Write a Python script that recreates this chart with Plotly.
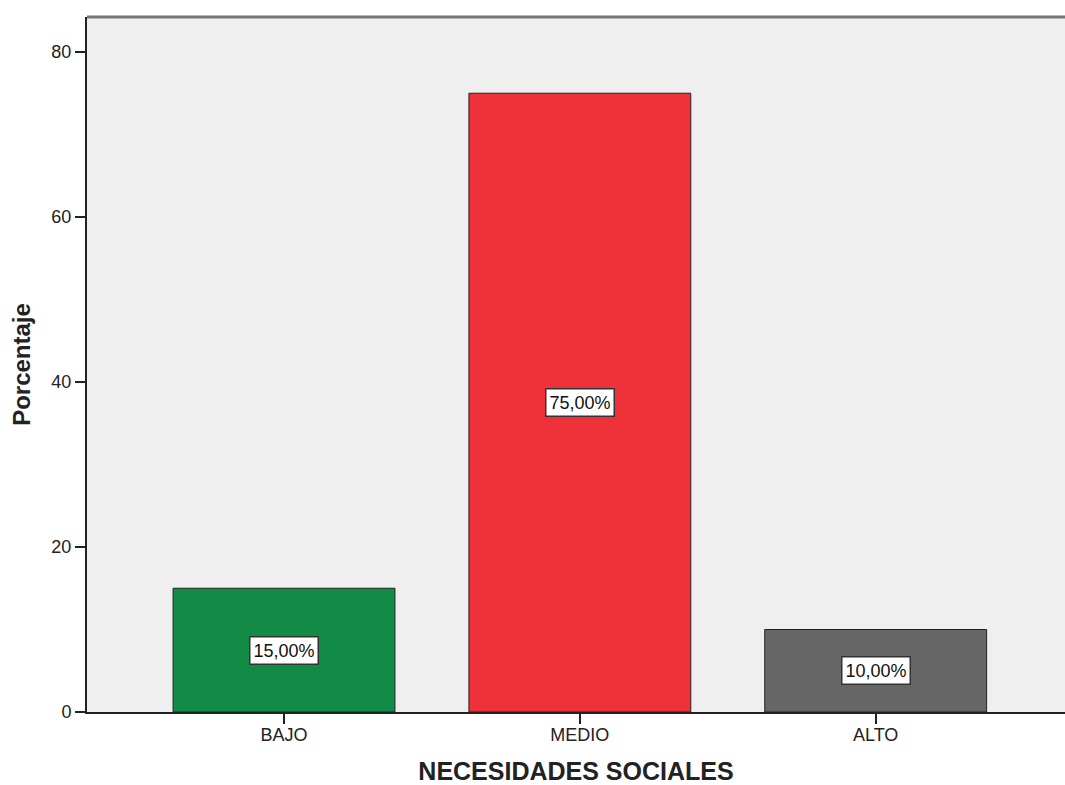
import plotly.graph_objects as go

categories = ["BAJO", "MEDIO", "ALTO"]
percentages = [15.0, 75.0, 10.0]
bar_colors = ["#118B46", "#EF323A", "#666666"]
y_ticks = [0, 20, 40, 60, 80]

def fmt(v):
    return f"{v:.2f}".replace(".", ",") + "%"

x_pos = list(range(len(categories)))
FONT = "Liberation Sans, Arial"

fig = go.Figure()
fig.add_trace(go.Bar(
    x=x_pos,
    y=percentages,
    width=0.75,
    marker=dict(color=bar_colors, line=dict(color="#222222", width=1)),
    hoverinfo="skip",
))

for xi, v in zip(x_pos, percentages):
    fig.add_annotation(
        x=xi, y=v / 2, text=fmt(v), showarrow=False,
        font=dict(family=FONT, size=18, color="#111111"),
        bgcolor="white", bordercolor="#333333", borderwidth=1.5, borderpad=3,
    )

# top border of the plot frame
fig.add_shape(type="line", xref="paper", yref="paper", x0=0, x1=1, y0=1, y1=1,
              line=dict(color="#777777", width=3))

fig.update_layout(
    width=1065, height=785,
    margin=dict(l=87, r=0, t=17, b=73),
    paper_bgcolor="white",
    plot_bgcolor="#EFEFEF",
    showlegend=False,
    font=dict(family=FONT, color="#222222"),
    xaxis=dict(
        range=[-0.666, 2.64],
        tickvals=x_pos, ticktext=categories,
        ticks="outside", ticklen=10, tickwidth=2, tickcolor="#222222",
        ticklabelstandoff=-5,
        showline=True, linecolor="#222222", linewidth=2,
        showgrid=False, zeroline=False,
        tickfont=dict(size=18, color="#222222"),
        title=dict(text="<b>NECESIDADES SOCIALES</b>", font=dict(size=25, color="#222222"), standoff=20),
    ),
    yaxis=dict(
        range=[0, 84.24],
        tickvals=y_ticks,
        ticks="outside", ticklen=10, tickwidth=2, tickcolor="#222222",
        showline=True, linecolor="#222222", linewidth=2,
        showgrid=False, zeroline=False,
        tickfont=dict(size=18, color="#222222"),
        title=dict(text="<b>Porcentaje</b>", font=dict(size=24, color="#222222"), standoff=14),
    ),
)

fig.write_html("out.html")
